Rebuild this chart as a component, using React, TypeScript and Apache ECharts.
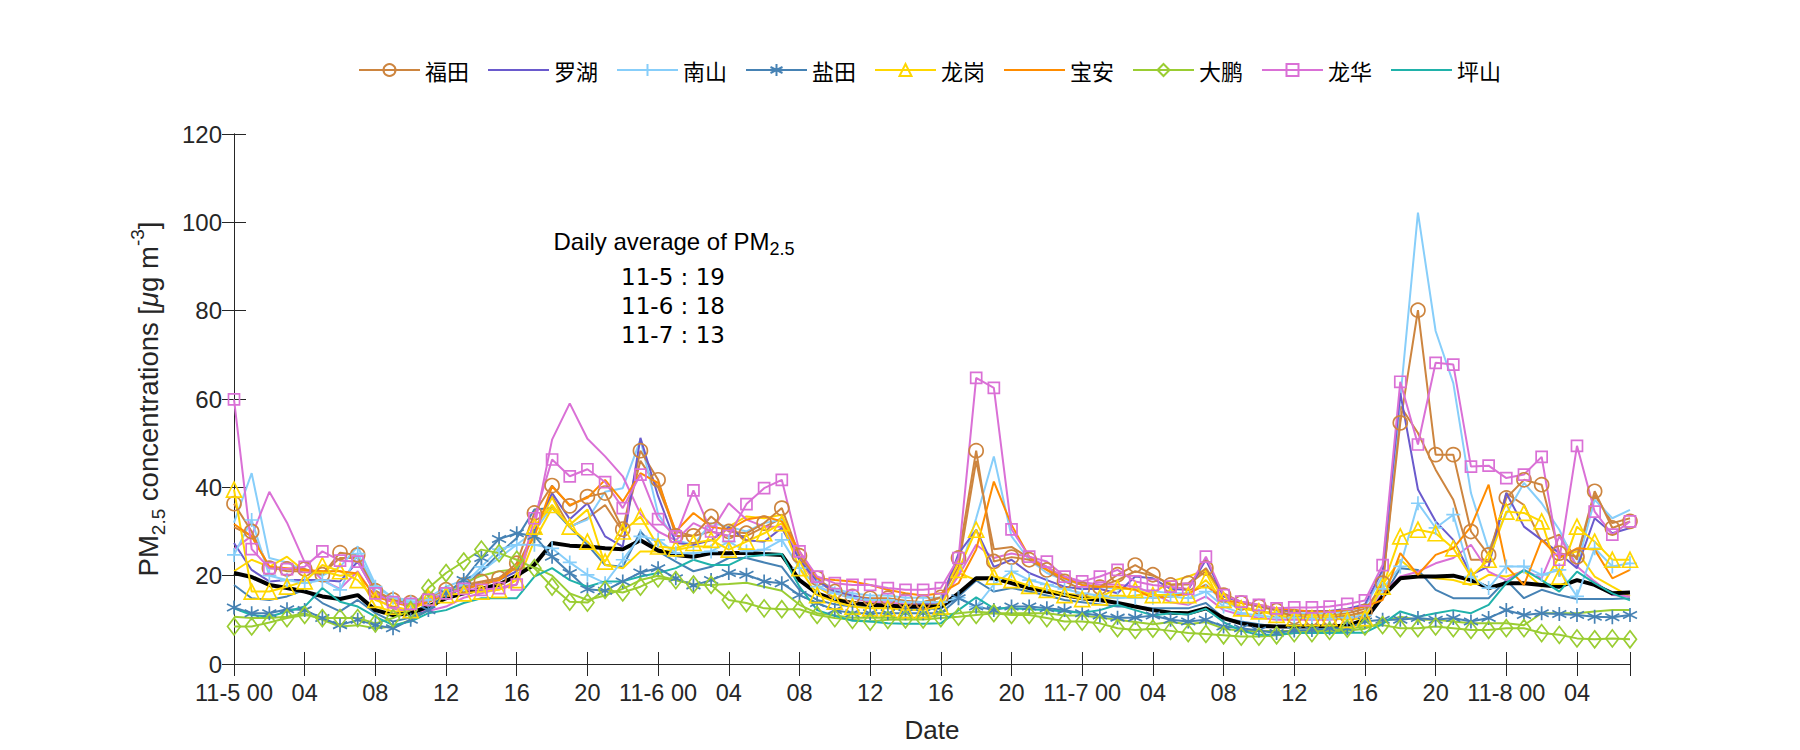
import React, { useEffect, useRef } from "react";
import * as echarts from "echarts";

// hour index 0..79 starting 11-5 00
const dayLabels = ["11-5", "11-6", "11-7", "11-8"];
const legendNames = ["福田", "罗湖", "南山", "盐田", "龙岗", "宝安", "大鹏", "龙华", "坪山"];

const futianA = [
  36.3, 30.0, 21.7, 21.5, 21.5, 20.2, 25.2, 24.7, 16.6, 14.5, 13.9, 14.7, 16.8, 17.9,
  18.7, 19.4, 22.8, 34.2, 40.4, 35.8, 37.9, 38.7, 30.5, 48.3, 41.7, 29.0, 29.0,
  33.4, 30.0, 29.6, 31.9, 35.3, 24.5, 19.4, 16.4, 15.3, 14.9, 14.9, 14.3, 14.0,
  15.1, 24.0, 48.3, 23.2, 24.2, 23.6, 21.3, 18.7, 16.9, 17.4, 20.2, 22.4, 20.2,
  17.9, 18.3, 21.7, 15.6, 13.8, 13.0, 12.1, 10.7, 10.4, 10.4, 10.9, 11.9, 18.3,
  54.6, 80.1, 47.4, 47.4, 30.0, 24.7, 37.6, 41.7, 40.6, 25.1, 24.3, 39.1, 30.8, 32.3,
];
const futianB = [
  31, 29, 22, 21, 21, 20.5, 24, 24, 16, 14.5, 13.5, 14.5, 16.5, 17.5,
  18.5, 19.5, 22, 30, 38, 31, 33, 36, 30, 46, 40, 30, 29,
  30, 29, 29, 31, 33, 24, 19, 16, 15, 14.5, 14.5, 14, 14,
  15, 22, 46, 26, 26.5, 24, 22, 19.5, 18, 17.5, 19, 21, 20,
  18, 18, 21, 16, 14, 13, 12.5, 11.5, 11, 11, 11.5, 12.5, 17,
  58.4, 52.3, 44, 37.2, 23.6, 23.6, 38.7, 36, 27.7, 29.3, 23.6, 38.3, 31.9, 33,
];
const luohu = [
  27.4, 21.3, 18.7, 19, 19, 19, 18.7, 23.2, 16, 14, 13.5, 14, 16, 17,
  18, 19, 21, 30, 38.7, 32.8, 36.4, 28.9, 26.6, 51.2, 38, 27.4, 27,
  28, 31, 28, 27.7, 30.8, 23.6, 18.7, 16.5, 15.5, 14.5, 14.5, 14, 13.8,
  14, 25, 30.4, 22, 23.6, 20.6, 19, 17.5, 17, 17, 16, 19.8, 19.4,
  17, 16.8, 23.6, 15.3, 14.1, 13.2, 12.5, 12, 12, 12, 12.5, 13.5, 21.3,
  61.4, 39.5, 32.3, 28.1, 20.2, 22.1, 38.7, 31.1, 28.1, 25.1, 21.7, 33, 29.6, 30.8,
];
const nanshanA = [
  24.7, 32.6, 20, 19, 18.3, 19, 16.8, 25, 17.5, 15, 14, 14.5, 16.5, 18,
  22, 26, 27, 27, 26.2, 23, 20.2, 18.3, 23.6, 28.9, 28.1, 25.1, 25.1,
  25.5, 27.7, 25.5, 25.9, 28.1, 21.7, 17.5, 16, 15, 14.5, 14.5, 14, 14,
  14, 15, 13, 18, 21, 19, 18, 17, 16, 15.5, 15, 15, 15,
  15.3, 14.9, 16.4, 13, 11.5, 11, 10.5, 10.5, 10.3, 10.3, 10.5, 11, 17,
  22.1, 36.4, 30.8, 33.8, 19.8, 17.2, 22.1, 22.1, 20.2, 21.3, 15.3, 26.2, 22.1, 22.8,
];
const nanshanB = [
  32, 43.2, 24, 23, 21, 20, 22, 26.6, 18, 15, 14.5, 15, 17.5, 19,
  21, 24, 27, 30, 35.7, 31.1, 32.7, 39, 39.8, 50.8, 34, 28, 27,
  31.9, 31.1, 30, 31.9, 32.7, 24.3, 19, 17, 16, 15.5, 15.5, 15, 15,
  15, 20, 33, 47, 28.9, 23.6, 20.6, 19, 18, 17.5, 17, 17, 16.5,
  16, 16, 18, 14, 12.5, 12, 11.5, 11.5, 11.5, 11.5, 12, 13, 20,
  60, 102.2, 75.4, 63.6, 38.7, 25.9, 34, 41, 36.4, 30.4, 22, 37.2, 33, 34.9,
];
const yantianA = [
  12.8, 11.5, 11.5, 12.4, 12.2, 10.4, 8.8, 10, 8.8, 8.1, 10, 12.2, 16, 19,
  24, 28.3, 29.6, 29, 24.3, 20.6, 16.9, 16.6, 18.7, 20.7, 21.7, 19.4, 17.8,
  19, 20.6, 20.2, 18.7, 18.3, 15.6, 13.8, 12.2, 11.5, 11.5, 11.5, 11.5, 11.5,
  11.5, 14.9, 13, 12.2, 13, 13, 12.6, 12.2, 11.5, 11, 10.5, 10.5, 11,
  10, 9.6, 10, 8.5, 8.1, 7.6, 7, 7.6, 7.7, 8.1, 8.1, 9.6, 10,
  10, 10.4, 10, 10.4, 9.6, 10.4, 12.2, 11.1, 11.5, 11.3, 11.1, 10.7, 10.6, 11.1,
];
const yantianB = [
  17.9, 14.9, 14.5, 15.3, 16.8, 13.8, 11.9, 14.5, 11.5, 9.6, 10.5, 12.5, 15, 17.5,
  21, 25, 28.5, 35, 35.3, 31, 27, 22.4, 22, 30, 25.5, 23.2, 21,
  22, 24, 24, 23, 22, 16.8, 14.5, 13.5, 13, 13, 13, 12.5, 12.5,
  12.5, 15.3, 18.9, 16.4, 17.2, 16.4, 15.5, 14.5, 14, 13.5, 13, 13, 12.6,
  12.6, 12.6, 13.8, 10.4, 9.6, 9, 8.5, 8.5, 8.5, 8.5, 8.5, 9.5, 15,
  21.7, 21.3, 16.8, 14.9, 14.9, 14.9, 19, 14.9, 16.8, 15.6, 14.7, 14.7, 14.7, 14.9,
];
const longgangA = [
  39.5, 16.4, 16.4, 17.5, 18.7, 22.4, 21, 19, 14.5, 13, 12.2, 15, 15.6, 16,
  16.4, 16.8, 19, 31.1, 36, 31.1, 27.7, 23.2, 30, 33.4, 26.6, 26.2, 27.4,
  28.1, 25.9, 27.7, 29.6, 31.9, 21.7, 15.6, 14.1, 13, 12.6, 12.6, 12.2, 12.2,
  13, 21.3, 30.4, 19.8, 19, 17.7, 16.8, 15.6, 14.7, 15.1, 17.2, 16.8, 15.6,
  15.6, 15.6, 19, 14.5, 12.6, 11.9, 11.1, 10.4, 10.4, 10.4, 10, 10.4, 17.5,
  28.9, 30.4, 29.6, 26.2, 19.8, 23.6, 34.5, 34.2, 32.3, 19.8, 31.1, 27.7, 23.6, 23.6,
];
const longgangB = [
  21, 23.6, 22, 24.3, 21, 21, 20, 20.5, 13, 11.9, 12, 14.5, 15, 16,
  16.5, 17, 18, 28, 35.3, 31.5, 35, 22.4, 21.7, 25.5, 25.5, 25.8, 26.6,
  26.6, 31.1, 33.4, 33, 33.8, 23.6, 17.5, 15, 14, 13.5, 13.5, 13, 13,
  13.5, 20.6, 19, 19.4, 18.3, 17.7, 16.8, 16, 15.5, 15, 15, 15.5, 16,
  18.7, 19.8, 21.3, 14.5, 13, 12, 11.5, 11, 11, 11, 11, 11.5, 18,
  23.6, 20.2, 19.4, 19, 17.9, 20.2, 19.8, 21, 17.5, 24.3, 25.5, 19.8, 17.5, 15.3,
];
const baoan = [
  31.7, 28.9, 22, 21.7, 21.3, 21, 21, 20.5, 15.3, 14, 13, 14, 16, 17,
  18, 19, 22, 28.9, 40.2, 36, 37.6, 41.7, 36.8, 43.2, 41, 30, 34.2,
  31.1, 30.4, 32.7, 33.4, 32.3, 25.5, 19.4, 19, 18.7, 17.9, 16.8, 16, 15.5,
  16, 18.3, 25.9, 41.3, 31.5, 24.3, 21.3, 19.4, 17.9, 17.5, 17.5, 16.8, 15,
  15.3, 16, 17.9, 14.5, 13.8, 13.4, 12.6, 12.2, 11.9, 11.9, 12.2, 13, 14.5,
  25.1, 20.2, 24.7, 26.2, 31.1, 40.6, 22.1, 17.9, 28.1, 24, 26.2, 25.9, 19.4, 21.3,
];
const dapengA = [
  8.5, 8.5, 9.4, 10.4, 11.1, 10.4, 10.4, 10.4, 9.2, 10.4, 12.2, 17.2, 20.6, 23.2,
  25.9, 25.1, 23.6, 21.7, 17.5, 14.1, 13.9, 16.8, 16.2, 17.5, 19.4, 19, 18,
  17.9, 14.5, 13.8, 12.6, 12.4, 12.4, 11.1, 10.4, 10, 9.6, 10, 10.1, 10.1,
  10.4, 10.7, 11.1, 11.5, 11.1, 11.1, 10.4, 9.6, 9.6, 9.2, 8.1, 7.7, 8,
  7.5, 7, 6.8, 6.5, 6.2, 6.2, 6.5, 7, 7, 7.5, 8, 8.5, 8.8,
  8.1, 8.1, 8.5, 8.1, 7.7, 7.7, 8.1, 8.1, 7, 6.6, 5.8, 5.6, 5.8, 5.6,
];
const dapengB = [
  10.7, 10.4, 10.4, 10.7, 11.5, 10, 8.5, 8.8, 8.1, 8.5, 10, 12.2, 15.3, 18.3,
  20, 21, 21.5, 22, 20, 16, 14.5, 15.5, 17, 19, 20, 19, 18,
  17.9, 18.1, 18.4, 17.5, 16.6, 13.4, 11.5, 11, 10.5, 10.5, 10.5, 10.5, 10.5,
  11.1, 11.5, 11.9, 11.5, 11.5, 11.5, 11.5, 11, 11, 10.5, 10, 9.5, 9,
  9.5, 9, 9.5, 8, 7.5, 7.5, 7.5, 7.5, 7.5, 7.5, 7.5, 8, 9.5,
  10.7, 10, 10, 9.6, 9.2, 9.2, 9.2, 8.8, 11.5, 11.5, 11.5, 11.9, 12.2, 12.2,
];
const longhuaA = [
  59.9, 26, 21.7, 21.5, 22, 25.5, 23.4, 23.2, 16, 14, 13.6, 14.5, 16, 17,
  16.8, 17.2, 18, 33, 46.3, 42.5, 44.1, 41.2, 35.3, 42.9, 32.8, 28.9, 39.3,
  30, 29, 36.2, 39.8, 41.7, 25.5, 19.8, 18.3, 17.9, 17.9, 17.2, 16.8, 16.8,
  17.2, 24, 64.8, 62.5, 30.5, 24.3, 23.2, 19.8, 18.7, 19.8, 21.3, 18.7, 17.9,
  17.5, 17, 24.3, 15.6, 14.1, 13.4, 12.6, 12.8, 12.8, 13, 13.6, 14.4, 22.4,
  63.9, 49.7, 68.2, 67.8, 44.7, 44.9, 42.1, 42.9, 46.9, 23.6, 49.4, 34.5, 29.3, 32.3,
];
const longhuaB = [
  26, 29, 39, 32, 23, 19, 17, 21, 15, 12.5, 12, 12, 13, 15,
  16, 17, 18, 31, 50.8, 59, 51, 47, 42.5, 34, 30, 28, 31.9,
  30, 36.4, 32.7, 31.1, 31.1, 24.3, 17.5, 16, 15, 14, 14, 13.5, 13.5,
  14, 20, 27, 24, 25, 24.3, 22, 19.5, 18.5, 18, 18, 17.5, 16,
  14, 13.4, 15.3, 12.2, 11.1, 10.5, 10, 10, 10, 10, 10.3, 11, 16,
  19.8, 20.9, 22.8, 24, 27, 20.9, 19, 21.3, 19.4, 28.9, 22.1, 18.7, 15.6, 15.3,
];
const pingshan = [
  12.6, 11.1, 10.7, 11.9, 13, 17.2, 14.1, 13, 10.7, 8.8, 9.6, 11.5, 12.2, 13.8,
  14.9, 14.9, 14.9, 19.8, 21.7, 19, 17.5, 18.7, 18.7, 19.8, 20.6, 21.7, 23.6,
  22.4, 22.4, 24.3, 24.7, 24.9, 17.5, 12.2, 10.9, 9.8, 9.6, 9.2, 9.1, 9.1,
  9.2, 12.2, 15.1, 12.6, 12.6, 12.4, 12.2, 11.9, 11.6, 12.2, 13.4, 12.2, 11,
  11.5, 11.2, 12.5, 9.5, 7.5, 6.6, 6.6, 7, 7, 7, 7.1, 7.1, 9.1,
  11.9, 10.7, 11.5, 12.2, 11.5, 13.4, 18.3, 21.3, 19, 16.4, 20.9, 18.3, 16, 14.4,
];
const cityAverage = [
  20.6, 19.7, 17.9, 17.2, 16.4, 15.3, 14.7, 15.6, 12.2, 11.1, 11.5, 13, 14.9, 16,
  17, 18, 20, 22.5, 27.4, 26.8, 26.6, 26.2, 26, 28, 25.7, 24.7, 24.3,
  25.1, 25.1, 25.2, 24.9, 24.7, 19, 16, 14.5, 13.8, 13.4, 13.2, 13, 13,
  13, 16, 19.4, 19.4, 18.3, 17.2, 16.4, 15.6, 14.9, 14.5, 13.8, 13, 12.2,
  11.6, 11.5, 12.6, 10.4, 9.2, 8.6, 8.5, 8.5, 8.5, 8.5, 8.7, 10, 15.3,
  19.4, 19.8, 19.8, 20, 19, 17.2, 18.3, 18.3, 17.9, 17.5, 19, 17.9, 16, 16.2,
];
const dailyAverages = [
  { day: "11-5", value: 19 },
  { day: "11-6", value: 18 },
  { day: "11-7", value: 13 },
];

const COLORS: Record<string, string> = {
  福田: "#CD853F",
  罗湖: "#6A5ACD",
  南山: "#87CEFA",
  盐田: "#4682B4",
  龙岗: "#FFD700",
  宝安: "#FF8C00",
  大鹏: "#9ACD32",
  龙华: "#DA70D6",
  坪山: "#20B2AA",
};

const PLUS = "path://M0,-1L0,1M-1,0L1,0";
const STAR = "path://M0,-1L0,1M-0.87,-0.5L0.87,0.5M-0.87,0.5L0.87,-0.5";

const FONT = "Liberation Sans";
const NUMFONT = "DejaVu Sans";
const CJK = "Noto Sans CJK SC";

function toXY(arr: number[]) {
  return arr.map((v, i) => [i, v]);
}

function mkSeries(name: string, arr: number[], district: string, symbol: string | null, symbolSize: any, z: number) {
  const c = COLORS[district];
  const hasSym = !!symbol;
  return {
    name,
    type: "line",
    data: toXY(arr),
    symbol: symbol || "none",
    showSymbol: hasSym,
    symbolSize,
    z,
    lineStyle: { color: c, width: 2 },
    itemStyle: hasSym
      ? { color: "rgba(255,255,255,0)", borderColor: c, borderWidth: 1.7 }
      : { color: "rgba(255,255,255,0)", borderColor: "rgba(255,255,255,0)", borderWidth: 0 },
    emphasis: { disabled: true },
  };
}

export default function App() {
  const ref = useRef<HTMLDivElement>(null);
  useEffect(() => {
    if (!ref.current) return;
    const chart = echarts.init(ref.current, null, { renderer: "svg" });
    const series: any[] = [
      mkSeries("福田B", futianB, "福田", null, 0, 2),
      mkSeries("南山B", nanshanB, "南山", null, 0, 2),
      mkSeries("盐田B", yantianB, "盐田", null, 0, 2),
      mkSeries("龙岗B", longgangB, "龙岗", null, 0, 2),
      mkSeries("大鹏B", dapengB, "大鹏", null, 0, 2),
      mkSeries("龙华B", longhuaB, "龙华", null, 0, 2),
      {
        name: "平均",
        type: "line",
        data: toXY(cityAverage),
        symbol: "none",
        showSymbol: false,
        z: 3,
        lineStyle: { color: "#000", width: 4 },
        itemStyle: { color: "#000" },
        emphasis: { disabled: true },
      },
      mkSeries("福田", futianA, "福田", "circle", 14, 4),
      mkSeries("罗湖", luohu, "罗湖", null, 0, 4),
      mkSeries("南山", nanshanA, "南山", PLUS, 14, 4),
      mkSeries("盐田", yantianA, "盐田", STAR, 14, 4),
      mkSeries("龙岗", longgangA, "龙岗", "triangle", 15, 4),
      mkSeries("宝安", baoan, "宝安", null, 0, 4),
      mkSeries("大鹏", dapengA, "大鹏", "diamond", [13, 17], 4),
      mkSeries("龙华", longhuaA, "龙华", "rect", 11, 4),
      mkSeries("坪山", pingshan, "坪山", null, 0, 4),
    ];

    const axisColor = "#262626";
    const xFormatter = (v: number) => {
      if (v % 4 !== 0) return "";
      const h = v % 24;
      const d = Math.floor(v / 24);
      const hh = (h < 10 ? "0" : "") + h;
      return h === 0 ? `${dayLabels[d]} ${hh}` : hh;
    };

    chart.setOption({
      animation: false,
      backgroundColor: "#fff",
      textStyle: { fontFamily: FONT },
      legend: {
        data: legendNames,
        top: 54,
        left: 353,
        itemWidth: 61,
        itemHeight: 15,
        itemGap: 18,
        textStyle: { fontSize: 22, color: "#000", fontFamily: CJK },
      },
      grid: { left: 234, right: 170, top: 134, bottom: 86, containLabel: false },
      xAxis: [
        {
          type: "value",
          min: 0,
          max: 79,
          interval: 4,
          name: "Date",
          nameLocation: "middle",
          nameGap: 53,
          nameTextStyle: { fontSize: 26, color: axisColor, fontFamily: FONT },
          axisLine: { lineStyle: { color: axisColor, width: 1 } },
          axisTick: { inside: true, length: 12, lineStyle: { color: axisColor } },
          axisLabel: { formatter: xFormatter, fontSize: 23.5, color: axisColor, margin: 17, fontFamily: FONT },
          splitLine: { show: false },
        },
        {
          type: "value",
          position: "top",
          min: 0,
          max: 79,
          interval: 4,
          axisLine: { lineStyle: { color: axisColor, width: 1 } },
          axisTick: { inside: true, length: 12, lineStyle: { color: axisColor } },
          axisLabel: { show: false },
          splitLine: { show: false },
        },
      ],
      yAxis: [
        {
          type: "value",
          min: 0,
          max: 120,
          interval: 20,
          name: "{a|PM}{sub|2.5}{a| concentrations [}{it|μ}{a|g m}{sup|-3}{a|]}",
          nameLocation: "middle",
          nameRotate: 90,
          nameGap: 66,
          nameTextStyle: {
            color: axisColor,
            rich: {
              a: { fontSize: 27.5, lineHeight: 40, color: axisColor, fontFamily: FONT },
              it: { fontSize: 27.5, lineHeight: 40, fontStyle: "italic", color: axisColor, fontFamily: FONT },
              sub: { fontSize: 19, lineHeight: 19, verticalAlign: "bottom", color: axisColor, fontFamily: FONT },
              sup: { fontSize: 19, lineHeight: 19, verticalAlign: "top", color: axisColor, fontFamily: FONT },
            },
          },
          axisLine: { show: true, lineStyle: { color: axisColor, width: 1 } },
          axisTick: { show: true, inside: true, length: 12, lineStyle: { color: axisColor } },
          axisLabel: { fontSize: 24, color: axisColor, margin: 12, fontFamily: FONT },
          splitLine: { show: false },
        },
        {
          type: "value",
          position: "right",
          min: 0,
          max: 120,
          interval: 20,
          axisLine: { show: true, lineStyle: { color: axisColor, width: 1 } },
          axisTick: { show: true, inside: true, length: 12, lineStyle: { color: axisColor } },
          axisLabel: { show: false },
          splitLine: { show: false },
        },
      ],
      graphic: [
        {
          type: "text",
          x: 674,
          y: 241,
          style: {
            text: "{a|Daily average of PM}{sub|2.5}",
            align: "center",
            verticalAlign: "middle",
            rich: {
              a: { fontSize: 24, lineHeight: 34, fill: "#000", fontFamily: FONT },
              sub: { fontSize: 18, lineHeight: 18, verticalAlign: "bottom", fill: "#000", fontFamily: FONT },
            },
          },
        },
        ...dailyAverages.map((d, i) => ({
          type: "text",
          x: 673,
          y: 277 + i * 29,
          style: {
            text: `${d.day} : ${d.value}`,
            align: "center",
            verticalAlign: "middle",
            fontSize: 23,
            fill: "#000",
            fontFamily: NUMFONT,
          },
        })),
      ],
      series,
    });
    return () => chart.dispose();
  }, []);
  return <div ref={ref} style={{ position: "fixed", left: 0, top: 0, width: 1800, height: 750 }} />;
}
